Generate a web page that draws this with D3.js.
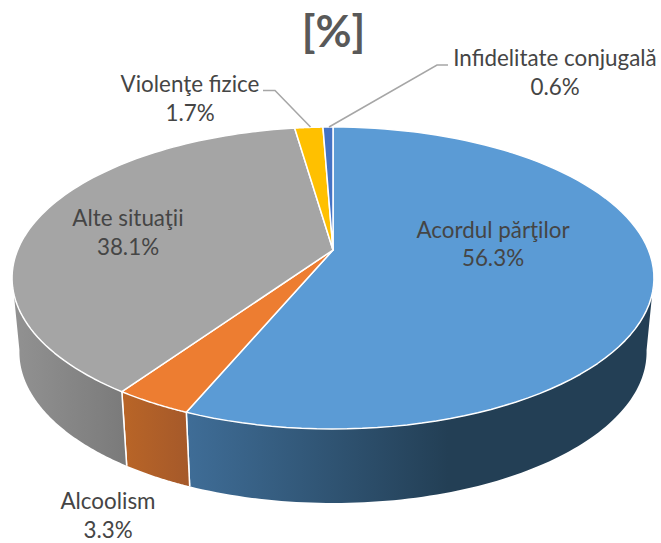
<!DOCTYPE html>
<html><head><meta charset="utf-8">
<script src="https://cdn.jsdelivr.net/npm/d3@7/dist/d3.min.js"></script>
<style>html,body{margin:0;padding:0;background:#fff}svg{display:block}text{font-family:Lato,"Open Sans",sans-serif}</style>
</head><body><svg id="c" width="661" height="543"></svg>
<script>
const titleText = "[%]";
const categories = ["Acordul părţilor","Alcoolism","Alte situaţii","Violenţe fizice","Infidelitate conjugală"];
const values = [56.3,3.3,38.1,1.7,0.6];
const topColors = ["#5B9BD5","#ED7D31","#A5A5A5","#FFC000","#4472C4"];
const wallLeft = ["#3F6D97","#B96527","#929292","#B38600","#2F5089"];
const wallRight = ["#233F55","#A5592A","#7A7A7A","#B38600","#2F5089"];

const svg = d3.select("#c");
const W=333, H=250, K=0.1854, RX=315.4, RY=145.8, DEPTH=74, SHRINK=0.977;
const sx = d3.scaleLinear().domain([-1,1]).range([W-RX,W+RX]);
const sy = d3.scaleLinear().domain([-1,1]).range([H-RY,H+RY]);
const proj = (a,bottom)=>{
  const u=Math.sin(a), v=-Math.cos(a), f=1/(1-K*v);
  const x=sx(u*f), y=sy(v*f);
  return bottom ? [W+(x-W)*SHRINK, y+DEPTH] : [x,y];
};
const pie = d3.pie().sort(null).value(d=>d);
const arcs = pie(values);
const line = d3.line();
const rad = d=>d*Math.PI/180;
const samples = (a,b)=>d3.range(0,91).map(i=>a+(b-a)*i/90);
const WALL_A=rad(100), WALL_B=rad(260);

const defs = svg.append("defs");
arcs.forEach((d,i)=>{
  const a=Math.max(d.startAngle,WALL_A), b=Math.min(d.endAngle,WALL_B);
  if(b<=a) return;
  const xs=samples(a,b).flatMap(t=>[proj(t)[0],proj(t,true)[0]]);
  const g=defs.append("linearGradient").attr("id","w"+i).attr("gradientUnits","userSpaceOnUse")
    .attr("x1",d3.min(xs)).attr("x2",d3.max(xs)).attr("y1",0).attr("y2",0);
  g.append("stop").attr("offset",0).attr("stop-color",wallLeft[i]);
  if(i===0) g.append("stop").attr("offset",0.56).attr("stop-color",wallRight[i]);
  g.append("stop").attr("offset",1).attr("stop-color",wallRight[i]);
  const top=samples(a,b).map(t=>proj(t));
  const bot=samples(a,b).map(t=>proj(t,true)).reverse();
  svg.append("path").attr("d",line(top.concat(bot))+"Z").attr("fill",`url(#w${i})`);
  [d.startAngle,d.endAngle].forEach(t=>{
    if(t>WALL_A&&t<WALL_B) svg.append("path").attr("d",line([proj(t),proj(t,true)]))
      .attr("stroke","#fff").attr("stroke-width",1.5).attr("fill","none");
  });
});
arcs.forEach((d,i)=>{
  const pts=[[W,H]].concat(samples(d.startAngle,d.endAngle).map(t=>proj(t)));
  svg.append("path").attr("d",line(pts)+"Z").attr("fill",topColors[i])
    .attr("stroke","#fff").attr("stroke-width",1.5).attr("stroke-linejoin","round");
});

const leaderColor="#A6A6A6";
const leaders=[[[263,90.5],[275,90.5],[310.5,127]],[[448,65],[437,65],[329,127]]];
leaders.forEach(p=>svg.append("path").attr("d",line(p)).attr("fill","none").attr("stroke",leaderColor).attr("stroke-width",1.5));

const labelPos=[[493,238,266],[108,509,538],[128,226,255],[190,92,121],[555,66,95]];
categories.forEach((c,i)=>{
  const [x,y1,y2]=labelPos[i];
  [[c,y1],[values[i].toFixed(1)+"%",y2]].forEach(([s,y])=>
    svg.append("text").attr("x",x).attr("y",y).attr("text-anchor","middle")
      .attr("font-size",22.4).attr("fill","#454545").text(s));
});
svg.append("text").attr("x",333.5).attr("y",47).attr("text-anchor","middle")
  .attr("font-size",44).attr("font-weight",700).attr("fill","#595959").text(titleText);
</script></body></html>
